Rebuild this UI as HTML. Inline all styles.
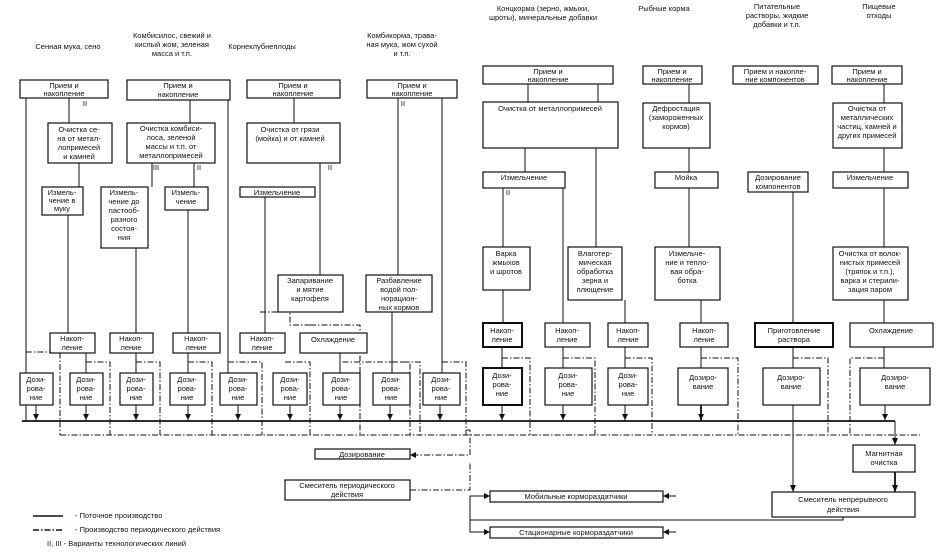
<!DOCTYPE html>
<html><head><meta charset="utf-8"><style>
html,body{margin:0;padding:0;background:#fff;}
svg{display:block;}
text{font-family:"Liberation Sans","DejaVu Sans",sans-serif;font-size:7.5px;fill:#111;text-anchor:middle;}
.b{fill:#fff;stroke:#111;stroke-width:1.2;}
.l{stroke:#111;stroke-width:1;fill:none;}
.d{stroke:#111;stroke-width:1;fill:none;stroke-dasharray:6,2,1.5,2;}
.bold{stroke-width:1.8;}
</style></head><body>
<svg width="938" height="553" viewBox="0 0 938 553" xmlns="http://www.w3.org/2000/svg">
<!-- headers -->
<text x="68" y="49">Сенная мука, сено</text>
<text x="172" y="38">Комбисилос, свежий и</text><text x="172" y="47">кислый жом, зеленая</text><text x="172" y="56">масса и т.п.</text>
<text x="262" y="49">Корнеклубнеплоды</text>
<text x="402" y="38">Комбикорма, трава-</text><text x="402" y="47">ная мука, жом сухой</text><text x="402" y="56">и т.п.</text>
<text x="543" y="11">Концкорма (зерно, жмыхи,</text><text x="543" y="20">шроты), минеральные добавки</text>
<text x="664" y="11">Рыбные корма</text>
<text x="777" y="9">Питательные</text><text x="777" y="18">растворы, жидкие</text><text x="777" y="27">добавки и т.п.</text>
<text x="879" y="9">Пищевые</text><text x="879" y="18">отходы</text>

<!-- ===== connectors (solid) ===== -->
<g class="l">
<!-- col1 -->
<line x1="26" y1="98" x2="26" y2="421"/><line x1="69" y1="98" x2="69" y2="123"/>
<line x1="79" y1="163" x2="79" y2="187"/><line x1="68" y1="215" x2="68" y2="333"/>
<line x1="86" y1="353" x2="86" y2="373"/><line x1="36" y1="405" x2="36" y2="421"/><line x1="86" y1="405" x2="86" y2="421"/>
<!-- col2 -->
<line x1="190" y1="100" x2="190" y2="123"/><line x1="152" y1="163" x2="152" y2="187"/><line x1="194" y1="163" x2="194" y2="187"/>
<line x1="136" y1="248" x2="136" y2="333"/><line x1="188" y1="210" x2="188" y2="333"/>
<line x1="136" y1="353" x2="136" y2="373"/><line x1="188" y1="353" x2="188" y2="373"/>
<line x1="136" y1="405" x2="136" y2="421"/><line x1="188" y1="405" x2="188" y2="421"/>
<line x1="228" y1="100" x2="228" y2="373"/><line x1="238" y1="405" x2="238" y2="421"/>
<!-- col3 -->
<line x1="294" y1="98" x2="294" y2="123"/><line x1="265" y1="196" x2="265" y2="320"/><line x1="265" y1="320" x2="265" y2="333"/>
<line x1="320" y1="163" x2="320" y2="275"/>
<line x1="290" y1="405" x2="290" y2="421"/><line x1="340" y1="405" x2="340" y2="421"/>
<line x1="340" y1="353" x2="340" y2="373"/>
<!-- col4 -->
<line x1="398" y1="98" x2="398" y2="275"/><line x1="442" y1="98" x2="442" y2="373"/>
<line x1="392" y1="312" x2="392" y2="373"/><line x1="390" y1="405" x2="390" y2="421"/><line x1="440" y1="405" x2="440" y2="421"/>
<!-- right col1 -->
<line x1="528" y1="84" x2="528" y2="102"/><line x1="598" y1="84" x2="598" y2="102"/>
<line x1="525" y1="148" x2="525" y2="172"/><line x1="596" y1="148" x2="596" y2="247"/>
<line x1="503" y1="188" x2="503" y2="247"/><line x1="563" y1="188" x2="563" y2="323"/>
<line x1="503" y1="290" x2="503" y2="323"/><line x1="625" y1="300" x2="625" y2="323"/>
<line x1="502" y1="347" x2="502" y2="368"/><line x1="563" y1="347" x2="563" y2="368"/><line x1="625" y1="347" x2="625" y2="368"/>
<line x1="502" y1="405" x2="502" y2="421"/><line x1="563" y1="405" x2="563" y2="421"/><line x1="625" y1="405" x2="625" y2="421"/>
<!-- fish -->
<line x1="689" y1="84" x2="689" y2="103"/><line x1="689" y1="148" x2="689" y2="172"/><line x1="689" y1="188" x2="689" y2="247"/>
<line x1="701" y1="300" x2="701" y2="323"/><line x1="701" y1="347" x2="701" y2="368"/>
<line x1="701" y1="405" x2="701" y2="421" class="bold"/>
<!-- nutr -->
<line x1="793" y1="192" x2="793" y2="323"/><line x1="793" y1="347" x2="793" y2="368"/>
<line x1="793" y1="405" x2="793" y2="492"/>
<!-- food -->
<line x1="884" y1="84" x2="884" y2="103"/><line x1="884" y1="148" x2="884" y2="172"/><line x1="884" y1="188" x2="884" y2="247"/>
<line x1="884" y1="300" x2="884" y2="323"/><line x1="884" y1="347" x2="884" y2="368"/><line x1="885" y1="405" x2="885" y2="421"/>
<!-- main line -->
<line x1="22" y1="421" x2="895" y2="421" class="bold"/>
<line x1="895" y1="421" x2="895" y2="445"/>
<line x1="895" y1="472" x2="895" y2="492" class="bold"/>
<!-- outputs -->
<polyline points="843,517 843,520 470,520 470,496 490,496"/>
<polyline points="470,520 470,532 490,532"/>
<polyline points="663,496 676,496"/><polyline points="663,532 676,532"/>
</g>

<!-- ===== dash-dot (periodic) ===== -->
<g class="d">
<polyline points="60,163 60,155"/>
<polyline points="26,352 60,352 60,435"/>
<polyline points="86,362 110,362 110,435"/>
<polyline points="136,362 160,362 160,435"/>
<polyline points="188,362 212,362 212,435"/>
<polyline points="228,362 262,362 262,435"/>
<polyline points="260,312 290,312 290,325 310,325"/>
<polyline points="310,325 360,325 360,435"/>
<polyline points="285,362 310,362 310,435"/>
<polyline points="340,353 340,362 410,362 410,435"/>
<polyline points="392,362 420,362 420,435"/>
<polyline points="442,362 466,362 466,435"/>
<polyline points="60,435 920,435"/>
<polyline points="466,430 470,430 470,455 410,455"/>
<polyline points="410,490 470,490 470,462"/>
<polyline points="502,358 530,358 530,435"/>
<polyline points="563,358 595,358 595,435"/>
<polyline points="625,358 652,358 652,435"/>
<polyline points="701,358 738,358 738,435"/>
<polyline points="793,358 828,358 828,435"/>
<polyline points="884,358 850,358 850,435"/>
<polyline points="793,435 793,445"/>
</g>

<!-- arrowheads -->
<g fill="#111">
<path d="M33,414 l3,6 l3,-6z"/><path d="M83,414 l3,6 l3,-6z"/><path d="M133,414 l3,6 l3,-6z"/><path d="M185,414 l3,6 l3,-6z"/><path d="M235,414 l3,6 l3,-6z"/><path d="M287,414 l3,6 l3,-6z"/><path d="M337,414 l3,6 l3,-6z"/><path d="M387,414 l3,6 l3,-6z"/><path d="M437,414 l3,6 l3,-6z"/>
<path d="M499,414 l3,6 l3,-6z"/><path d="M560,414 l3,6 l3,-6z"/><path d="M622,414 l3,6 l3,-6z"/><path d="M698,414 l3,6 l3,-6z"/><path d="M882,414 l3,6 l3,-6z"/>
<path d="M892,438 l3,7 l3,-7z"/><path d="M892,485 l3,7 l3,-7z"/><path d="M790,485 l3,7 l3,-7z"/>
<path d="M484,493 l6,3 l-6,3z"/><path d="M484,529 l6,3 l-6,3z"/>
<path d="M663,496 l6,-3 l0,6z"/><path d="M663,532 l6,-3 l0,6z"/>
<path d="M410,455 l6,-3 l0,6z"/>
</g>

<!-- ===== boxes left ===== -->
<g class="b">
<rect x="20" y="80" width="88" height="18"/><rect x="127" y="80" width="103" height="20"/><rect x="247" y="80" width="93" height="18"/><rect x="367" y="80" width="90" height="18"/>
<rect x="48" y="123" width="64" height="40"/><rect x="127" y="123" width="88" height="40"/><rect x="247" y="123" width="93" height="40"/>
<rect x="42" y="187" width="41" height="28"/><rect x="101" y="187" width="47" height="61"/><rect x="165" y="187" width="43" height="23"/><rect x="240" y="187" width="75" height="10"/>
<rect x="278" y="275" width="65" height="37"/><rect x="366" y="275" width="66" height="37"/>
<rect x="50" y="333" width="45" height="20"/><rect x="110" y="333" width="43" height="20"/><rect x="173" y="333" width="47" height="20"/><rect x="240" y="333" width="45" height="20"/><rect x="300" y="333" width="67" height="20"/>
<rect x="20" y="373" width="33" height="32"/><rect x="70" y="373" width="33" height="32"/><rect x="120" y="373" width="33" height="32"/><rect x="170" y="373" width="35" height="32"/><rect x="220" y="373" width="37" height="32"/><rect x="273" y="373" width="34" height="32"/><rect x="323" y="373" width="37" height="32"/><rect x="373" y="373" width="37" height="32"/><rect x="423" y="373" width="37" height="32"/>
<rect x="315" y="449" width="95" height="10"/><rect x="285" y="480" width="125" height="20"/>
</g>
<!-- ===== boxes right ===== -->
<g class="b">
<rect x="483" y="66" width="130" height="18"/><rect x="643" y="66" width="59" height="18"/><rect x="733" y="66" width="85" height="18"/><rect x="832" y="66" width="70" height="18"/>
<rect x="483" y="102" width="135" height="46"/><rect x="643" y="103" width="67" height="45"/><rect x="833" y="103" width="69" height="45"/>
<rect x="483" y="172" width="82" height="16"/><rect x="655" y="172" width="63" height="16"/><rect x="748" y="172" width="60" height="20"/><rect x="833" y="172" width="75" height="16"/>
<rect x="483" y="247" width="47" height="43"/><rect x="568" y="247" width="54" height="53"/><rect x="655" y="247" width="65" height="53"/><rect x="833" y="247" width="75" height="53"/>
<rect x="483" y="323" width="39" height="24" style="stroke-width:2"/><rect x="545" y="323" width="45" height="24"/><rect x="608" y="323" width="40" height="24"/><rect x="680" y="323" width="48" height="24"/><rect x="755" y="323" width="78" height="24" style="stroke-width:2"/><rect x="850" y="323" width="83" height="24"/>
<rect x="483" y="368" width="39" height="37" style="stroke-width:2"/><rect x="545" y="368" width="47" height="37"/><rect x="608" y="368" width="40" height="37"/><rect x="678" y="368" width="50" height="37"/><rect x="763" y="368" width="57" height="37"/><rect x="860" y="368" width="70" height="37"/>
<rect x="853" y="445" width="62" height="27"/><rect x="772" y="492" width="143" height="25"/>
<rect x="490" y="491" width="173" height="11"/><rect x="490" y="527" width="173" height="11"/>
</g>

<!-- ===== box labels left ===== -->
<text x="64" y="88">Прием и</text><text x="64" y="96">накопление</text>
<text x="178" y="88">Прием и</text><text x="178" y="97">накопление</text>
<text x="293" y="88">Прием и</text><text x="293" y="96">накопление</text>
<text x="412" y="88">Прием и</text><text x="412" y="96">накопление</text>
<text x="79" y="132">Очистка се-</text><text x="79" y="141">на от метал-</text><text x="79" y="150">лопримесей</text><text x="79" y="159">и камней</text>
<text x="171" y="131">Очистка комбиси-</text><text x="171" y="140">лоса, зеленой</text><text x="171" y="149">массы и т.п. от</text><text x="171" y="158">металлопримесей</text>
<text x="290" y="132">Очистка от грязи</text><text x="290" y="141">(мойка) и от камней</text>
<text x="62" y="195">Измель-</text><text x="62" y="203">чение в</text><text x="62" y="211">муку</text>
<text x="124" y="195">Измель-</text><text x="124" y="204">чение до</text><text x="124" y="213">пастооб-</text><text x="124" y="222">разного</text><text x="124" y="231">состоя-</text><text x="124" y="240">ния</text>
<text x="186" y="195">Измель-</text><text x="186" y="204">чение</text>
<text x="277" y="195">Измельчение</text>
<text x="310" y="283">Запаривание</text><text x="310" y="292">и мятие</text><text x="310" y="301">картофеля</text>
<text x="399" y="283">Разбавление</text><text x="399" y="292">водой пол-</text><text x="399" y="301">норацион-</text><text x="399" y="310">ных кормов</text>
<text x="72" y="341">Накоп-</text><text x="72" y="350">ление</text>
<text x="131" y="341">Накоп-</text><text x="131" y="350">ление</text>
<text x="196" y="341">Накоп-</text><text x="196" y="350">ление</text>
<text x="262" y="341">Накоп-</text><text x="262" y="350">ление</text>
<text x="333" y="342">Охлаждение</text>
<g>
<text x="36" y="382">Дози-</text><text x="36" y="391">рова-</text><text x="36" y="400">ние</text>
<text x="86" y="382">Дози-</text><text x="86" y="391">рова-</text><text x="86" y="400">ние</text>
<text x="136" y="382">Дози-</text><text x="136" y="391">рова-</text><text x="136" y="400">ние</text>
<text x="187" y="382">Дози-</text><text x="187" y="391">рова-</text><text x="187" y="400">ние</text>
<text x="238" y="382">Дози-</text><text x="238" y="391">рова-</text><text x="238" y="400">ние</text>
<text x="290" y="382">Дози-</text><text x="290" y="391">рова-</text><text x="290" y="400">ние</text>
<text x="341" y="382">Дози-</text><text x="341" y="391">рова-</text><text x="341" y="400">ние</text>
<text x="391" y="382">Дози-</text><text x="391" y="391">рова-</text><text x="391" y="400">ние</text>
<text x="441" y="382">Дози-</text><text x="441" y="391">рова-</text><text x="441" y="400">ние</text>
</g>
<text x="362" y="457">Дозирование</text>
<text x="347" y="488">Смеситель периодического</text><text x="347" y="497">действия</text>
<!-- variant marks -->
<text x="85" y="106">II</text><text x="156" y="170">III</text><text x="199" y="170">II</text><text x="330" y="170">II</text><text x="403" y="106">II</text><text x="508" y="195">II</text>

<!-- ===== box labels right ===== -->
<text x="548" y="74">Прием и</text><text x="548" y="82">накопление</text>
<text x="672" y="74">Прием и</text><text x="672" y="82">накопление</text>
<text x="775" y="74">Прием и накопле-</text><text x="775" y="82">ние компонентов</text>
<text x="867" y="74">Прием и</text><text x="867" y="82">накопление</text>
<text x="550" y="111">Очистка от металлопримесей</text>
<text x="676" y="111">Дефростация</text><text x="676" y="120">(замороженных</text><text x="676" y="129">кормов)</text>
<text x="867" y="111">Очистка от</text><text x="867" y="120">металлических</text><text x="867" y="129">частиц, камней и</text><text x="867" y="138">других примесей</text>
<text x="524" y="180">Измельчение</text>
<text x="686" y="180">Мойка</text>
<text x="778" y="180">Дозирование</text><text x="778" y="189">компонентов</text>
<text x="870" y="180">Измельчение</text>
<text x="506" y="256">Варка</text><text x="506" y="265">жмыхов</text><text x="506" y="274">и шротов</text>
<text x="595" y="256">Влаготер-</text><text x="595" y="265">мическая</text><text x="595" y="274">обработка</text><text x="595" y="283">зерна и</text><text x="595" y="292">плющение</text>
<text x="687" y="256">Измельче-</text><text x="687" y="265">ние и тепло-</text><text x="687" y="274">вая обра-</text><text x="687" y="283">ботка</text>
<text x="870" y="256">Очистка от волок-</text><text x="870" y="265">нистых примесей</text><text x="870" y="274">(тряпок и т.п.),</text><text x="870" y="283">варка и стерили-</text><text x="870" y="292">зация паром</text>
<text x="502" y="333">Накоп-</text><text x="502" y="342">ление</text>
<text x="567" y="333">Накоп-</text><text x="567" y="342">ление</text>
<text x="628" y="333">Накоп-</text><text x="628" y="342">ление</text>
<text x="704" y="333">Накоп-</text><text x="704" y="342">ление</text>
<text x="794" y="333">Приготовление</text><text x="794" y="342">раствора</text>
<text x="891" y="333">Охлаждение</text>
<text x="502" y="378">Дози-</text><text x="502" y="387">рова-</text><text x="502" y="396">ние</text>
<text x="568" y="378">Дози-</text><text x="568" y="387">рова-</text><text x="568" y="396">ние</text>
<text x="628" y="378">Дози-</text><text x="628" y="387">рова-</text><text x="628" y="396">ние</text>
<text x="703" y="380">Дозиро-</text><text x="703" y="389">вание</text>
<text x="791" y="380">Дозиро-</text><text x="791" y="389">вание</text>
<text x="895" y="380">Дозиро-</text><text x="895" y="389">вание</text>
<text x="884" y="456">Магнитная</text><text x="884" y="465">очистка</text>
<text x="843" y="502">Смеситель непрерывного</text><text x="843" y="512">действия</text>
<text x="576" y="499">Мобильные кормораздатчики</text>
<text x="576" y="535">Стационарные кормораздатчики</text>

<!-- legend -->
<line x1="33" y1="516" x2="63" y2="516" class="l" style="stroke-width:1.5"/>
<text x="75" y="518" style="text-anchor:start">- Поточное производство</text>
<line x1="33" y1="530" x2="63" y2="530" class="d" style="stroke-width:1.5"/>
<text x="75" y="532" style="text-anchor:start">- Производство периодического действия</text>
<text x="47" y="546" style="text-anchor:start">II, III  - Варианты технологических линий</text>
</svg>
</body></html>
